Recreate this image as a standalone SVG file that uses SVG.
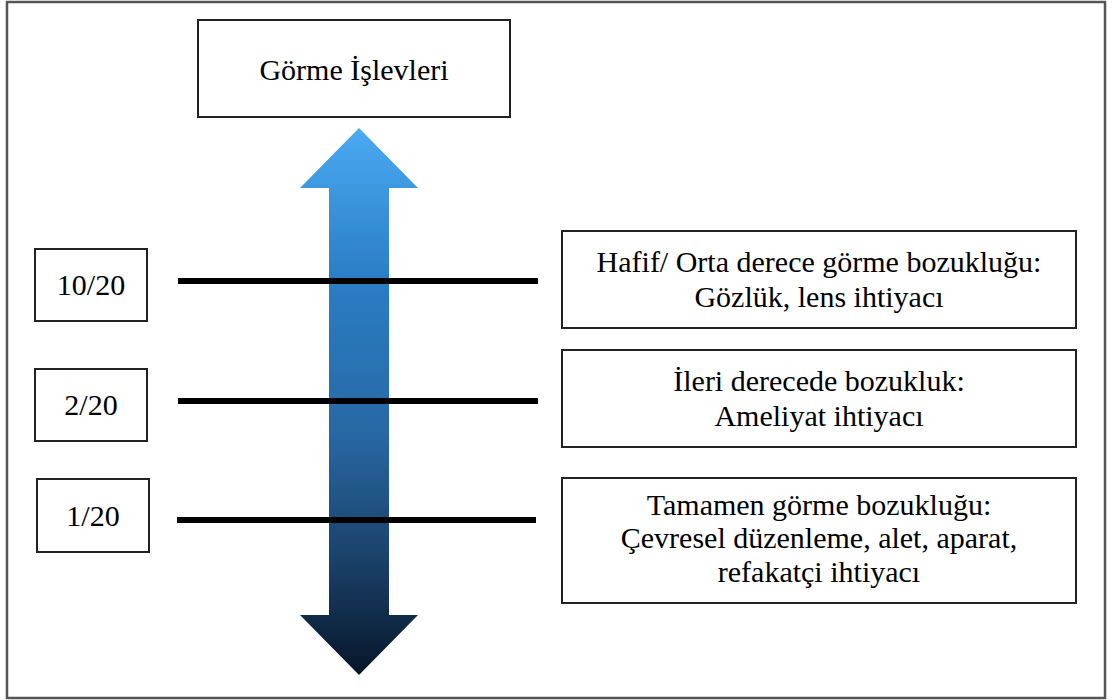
<svg xmlns="http://www.w3.org/2000/svg" width="1113" height="700" viewBox="0 0 1113 700">
<defs>
<linearGradient id="arrowGrad" x1="0" y1="128" x2="0" y2="675" gradientUnits="userSpaceOnUse">
<stop offset="0" stop-color="#4aaaf2"/>
<stop offset="0.28" stop-color="#2a7dc5"/>
<stop offset="0.55" stop-color="#2869a6"/>
<stop offset="0.8" stop-color="#1a3f66"/>
<stop offset="1" stop-color="#061628"/>
</linearGradient>
</defs>
<style>
.box{fill:#ffffff;stroke:#222;stroke-width:2}
.t{font-size:30px;fill:#000;text-anchor:middle}
.lvl{stroke:#000;stroke-width:6}
</style>
<rect x="0" y="0" width="1113" height="700" fill="#ffffff"/>
<rect x="7" y="2" width="1098" height="696" fill="none" stroke="#555" stroke-width="2.5"/>
<g id="arrow">
<polygon points="359,128 418,188 389,188 389,615 418,615 359,675 300,615 329,615 329,188 300,188" fill="url(#arrowGrad)"/>
</g>
<g id="connectors">
<line class="lvl" x1="178" y1="281" x2="538" y2="281"/>
<line class="lvl" x1="178" y1="401" x2="538" y2="401"/>
<line class="lvl" x1="177" y1="520" x2="536" y2="520"/>
</g>
<g font-family="Liberation Serif, Times New Roman, serif">
<g id="title">
<rect class="box" x="198" y="20" width="312" height="97"/>
<text class="t" x="354" y="80">Görme İşlevleri</text>
</g>
<g id="level10">
<rect class="box" x="35" y="249" width="112" height="72"/>
<text class="t" x="91" y="295">10/20</text>
</g>
<g id="level2">
<rect class="box" x="35" y="369" width="112" height="72"/>
<text class="t" x="91" y="415">2/20</text>
</g>
<g id="level1">
<rect class="box" x="37" y="479" width="112" height="73"/>
<text class="t" x="93" y="526">1/20</text>
</g>
<g id="desc1">
<rect class="box" x="562" y="231" width="514" height="97"/>
<text class="t" x="819" y="272">Hafif/ Orta derece görme bozukluğu:</text>
<text class="t" x="819" y="307">Gözlük, lens ihtiyacı</text>
</g>
<g id="desc2">
<rect class="box" x="562" y="350" width="514" height="97"/>
<text class="t" x="819" y="391">İleri derecede bozukluk:</text>
<text class="t" x="819" y="426">Ameliyat ihtiyacı</text>
</g>
<g id="desc3">
<rect class="box" x="562" y="478" width="514" height="125"/>
<text class="t" x="819" y="515">Tamamen görme bozukluğu:</text>
<text class="t" x="819" y="548">Çevresel düzenleme, alet, aparat,</text>
<text class="t" x="819" y="582">refakatçi ihtiyacı</text>
</g>
</g>
</svg>
